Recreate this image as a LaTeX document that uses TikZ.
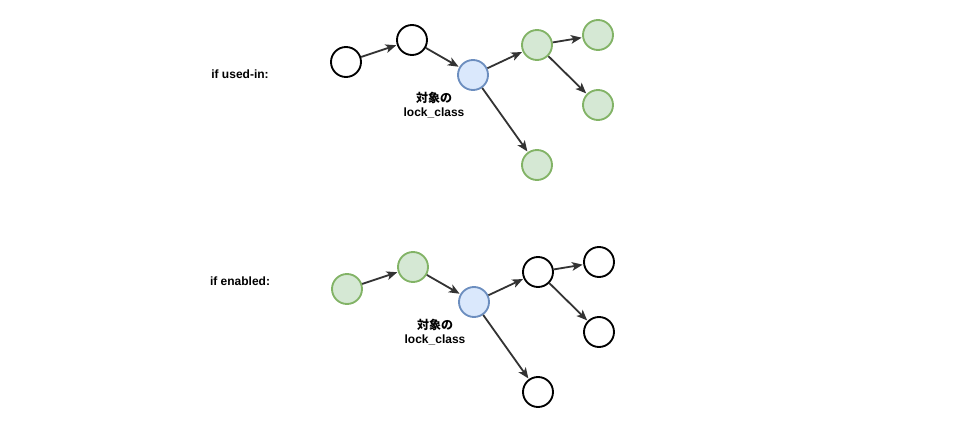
\documentclass[tikz,border=0pt]{standalone}
\usepackage{fontspec}
\setmainfont{Liberation Sans}
\newfontfamily\cjk{Noto Sans CJK JP}
\usepackage{xcolor}
\usetikzlibrary{positioning,arrows.meta}

\definecolor{lineC}{HTML}{333333}
\definecolor{blueF}{HTML}{DAE8FC}
\definecolor{blueD}{HTML}{6C8EBF}
\definecolor{greenF}{HTML}{D5E8D4}
\definecolor{greenD}{HTML}{82B366}

\tikzset{
  vtx/.style={circle,minimum size=22.5pt,inner sep=0pt,line width=1.4pt},
  plain/.style={vtx,draw=black,fill=white},
  green/.style={vtx,draw=greenD,fill=greenF},
  target/.style={vtx,draw=blueD,fill=blueF},
  edge/.style={draw=lineC,line width=1.35pt,-{Stealth[length=8pt,width=6.5pt,inset=2pt]},shorten >=0.5pt},
  lbl/.style={font=\bfseries\fontsize{9}{10.5}\selectfont,align=center}
}

\begin{document}
\begin{tikzpicture}[x=0.75pt,y=-0.75pt]
\useasboundingbox (0,0) rectangle (962,434);
% two cases: used-in (top) and enabled (bottom)
\foreach \p/\dx/\dy/\ly/\lab/\sa/\sb in {u/0/1/74/{if used-in:}/plain/green, e/1/228/281/{if enabled:}/green/plain}{
  \node[lbl] (\p-lab) at (240,\ly) {\lab};
  \begin{scope}[shift={(\dx,\dy)}]
    \node[\sa] (\p-a) at (346,61) {};
    \node[\sa] (\p-b) at (412,39) {};
    \node[target] (\p-t) at (473,74) {};
    \node[\sb] (\p-c) at (537,44) {};
    \node[\sb] (\p-d) at (598,34) {};
    \node[\sb] (\p-e) at (598,104) {};
    \node[\sb] (\p-f) at (537,164) {};
    \node[lbl] (\p-tl) at (434,104) {{\cjk 対象の}\\lock\_class};
    \draw[edge] (\p-a) -- (\p-b);
    \draw[edge] (\p-b) -- (\p-t);
    \draw[edge] (\p-t) -- (\p-c);
    \draw[edge] (\p-c) -- (\p-d);
    \draw[edge] (\p-c) -- (\p-e);
    \draw[edge] (\p-t) -- (\p-f);
  \end{scope}
}
\end{tikzpicture}
\end{document}
